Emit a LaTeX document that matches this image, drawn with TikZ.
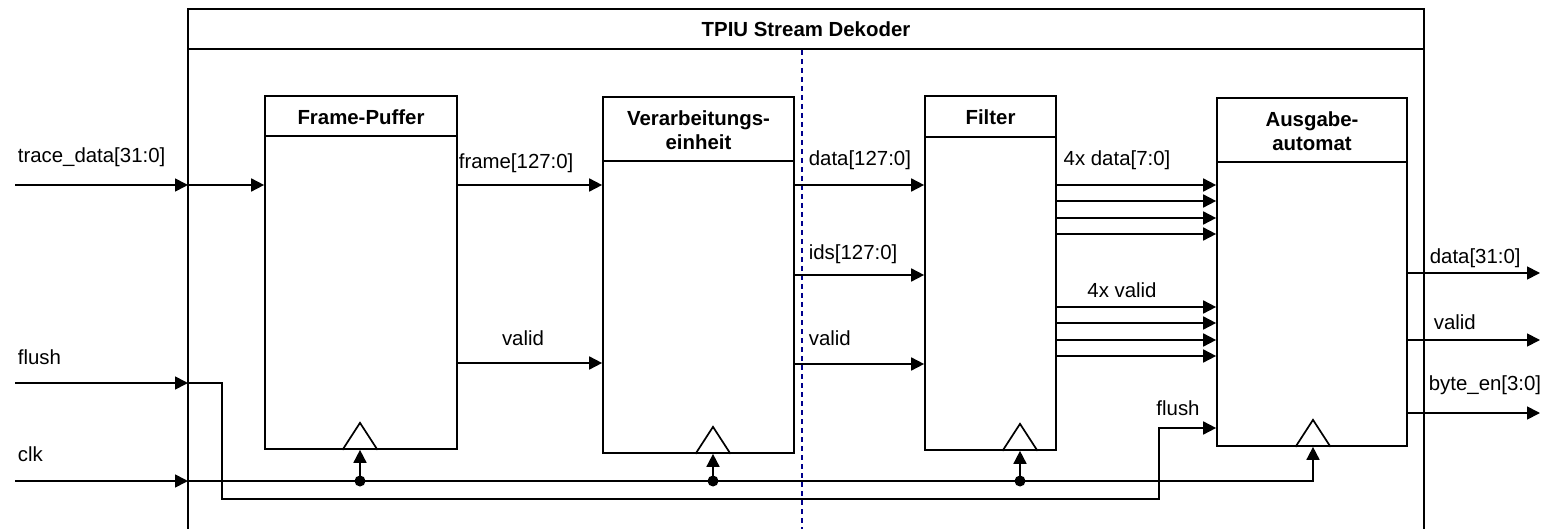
\documentclass[tikz,border=0pt]{standalone}
\usepackage{fontspec}
\setmainfont{Liberation Sans}
\usetikzlibrary{arrows.meta}

\begin{document}
\begin{tikzpicture}[x=0.5pt, y=-0.5pt, >={Triangle[length=6.5pt,width=6.5pt]},
line width=0.85pt,
every node/.style={font=\fontsize{10.2}{12}\selectfont},
block/.style={draw, rectangle, inner sep=0pt},
title/.style={font=\fontsize{10.2}{12}\selectfont\bfseries, align=center},
sig/.style={->},
lbl/.style={anchor=west, inner sep=0pt},
tick/.style={circle, fill=black, inner sep=0pt, minimum size=5.5pt},
border/.style={navy, dash pattern=on 2.5pt off 2pt, line width=0.6pt}]
\definecolor{navy}{RGB}{0,0,140}
\useasboundingbox (0,0) rectangle (1552,529);
\draw (188,529) -- (188,9) -- (1424,9) -- (1424,529);
\draw (188,49) -- (1424,49);
\node[title] (ttl) at (806,29) {TPIU Stream Dekoder};
\draw[border] (802,50) -- (802,529);

\node[block, minimum width=96pt, minimum height=176.5pt] (fp) at (361,272.5) {};
\node[block, minimum width=95.5pt, minimum height=178pt] (vu) at (698.5,275) {};
\node[block, minimum width=65.5pt, minimum height=177pt] (fi) at (990.5,273) {};
\node[block, minimum width=95pt, minimum height=174pt] (aa) at (1312,272) {};
\draw (fp.west |- 0,136) -- (fp.east |- 0,136);
\draw (vu.west |- 0,161) -- (vu.east |- 0,161);
\draw (fi.west |- 0,137) -- (fi.east |- 0,137);
\draw (aa.west |- 0,162) -- (aa.east |- 0,162);
\node[title] (fpt) at (361,117) {Frame-Puffer};
\node[title] (vut) at (698.5,130) {Verarbeitungs-\\einheit};
\node[title] (fit) at (990.5,117) {Filter};
\node[title] (aat) at (1312,131) {Ausgabe-\\automat};
\coordinate (c1) at ([xshift=-0.5pt]fp.south);
\coordinate (c2) at ([xshift=7.25pt]vu.south);
\coordinate (c3) at ([xshift=14.75pt]fi.south);
\coordinate (c4) at ([xshift=0.5pt]aa.south);
\foreach \c in {c1,c2,c3,c4}
  \draw (\c) ++(-17.5,0) -- ++(17.5,-27) -- ++(17.5,27);

\coordinate (tdin) at (15,185);
\coordinate (td) at (188,185);
\coordinate (flin) at (15,383);
\coordinate (fl) at (188,383);
\coordinate (clkin) at (15,481);
\coordinate (clk) at (188,481);
\node[lbl] at (17,157) {trace\_data[31:0]};
\node[lbl] at (17,357) {flush};
\node[lbl] at (17,454) {clk};
\draw[sig] (tdin) -- (td);
\draw[sig] (td) -- (fp.west |- td);
\draw[sig] (flin) -- (fl);
\draw[sig] (clkin) -- (clk);
\draw[sig] (fl) -- (222,383) -- (222,499) -- (1159,499) |- (aa.west |- 0,428);
\node at (1178,408) {flush};
\draw[sig] (clk) -| (c4);
\node[tick] (d1) at (c1 |- clk) {};
\node[tick] (d2) at (c2 |- clk) {};
\node[tick] (d3) at (c3 |- clk) {};
\draw[sig] (d1.center) -- (c1);
\draw[sig] (d2.center) -- (c2);
\draw[sig] (d3.center) -- (c3);

\draw[sig] (fp.east |- 0,185) -- (vu.west |- 0,185);
\draw[sig] (fp.east |- 0,363) -- (vu.west |- 0,363);
\node[lbl] at (458,163) {frame[127:0]};
\node at (523,338) {valid};
\draw[sig] (vu.east |- 0,185) -- (fi.west |- 0,185);
\draw[sig] (vu.east |- 0,275) -- (fi.west |- 0,275);
\draw[sig] (vu.east |- 0,364) -- (fi.west |- 0,364);
\node[lbl] at (808,160) {data[127:0]};
\node[lbl] at (808,254) {ids[127:0]};
\node[lbl] at (808,338) {valid};
\foreach \y in {185,201,218,234,307,323,340,356}
  \draw[sig] (fi.east |- 0,\y) -- (aa.west |- 0,\y);
\node at (1117,160) {4x data[7:0]};
\node at (1122,290) {4x valid};

\coordinate (o1) at (1540,273);
\coordinate (o2) at (1540,340);
\coordinate (o3) at (1540,413);
\draw[sig] (aa.east |- o1) -- (o1);
\draw[sig] (aa.east |- o2) -- (o2);
\draw[sig] (aa.east |- o3) -- (o3);
\node[lbl] at (1429,258) {data[31:0]};
\node[lbl] at (1433,322) {valid};
\node[lbl] at (1428,385) {byte\_en[3:0]};
\end{tikzpicture}
\end{document}
